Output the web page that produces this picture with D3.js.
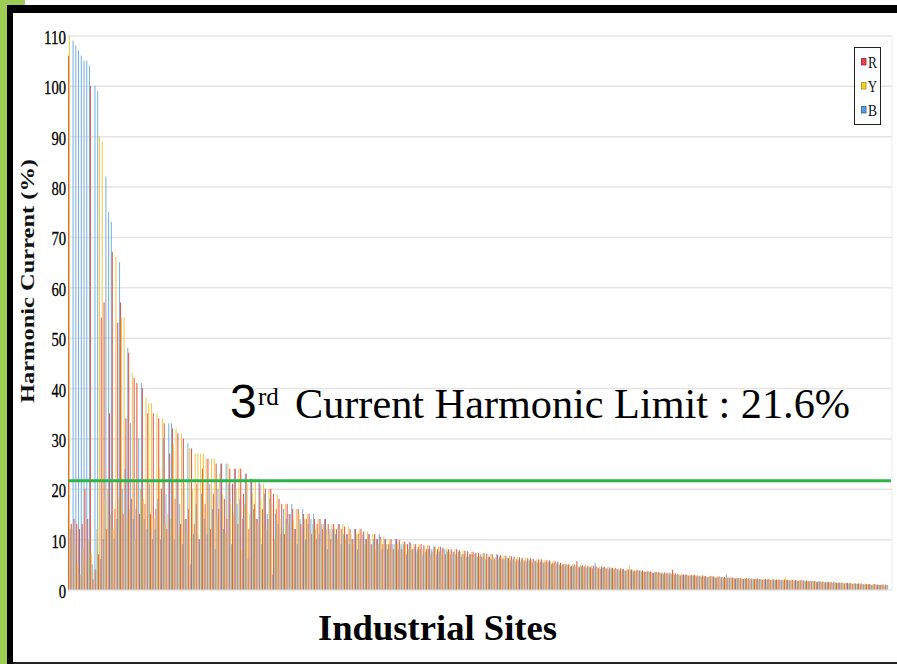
<!DOCTYPE html>
<html><head><meta charset="utf-8">
<script src="https://cdn.jsdelivr.net/npm/d3@7"></script>
<style>html,body{margin:0;padding:0;background:#fff;}svg{display:block;}</style>
</head><body>
<svg id="chart" width="897" height="664"></svg>
<script>
// ---------- data ----------
const seriesNames = ["R", "Y", "B"];
const yTicks = [0, 10, 20, 30, 40, 50, 60, 70, 80, 90, 100, 110];
const limitValue = 21.6;
const yTitle = "Harmonic Current (%)";
const xTitle = "Industrial Sites";

const R = [
106,13,14,13,12,13,20,14,100,2,
4,7,54,57,12,35,67,16,53,57,
15,34,47,18,42,41,15,40,17,35,
15,35,16,34,20,33,12,27,32,18,
31,13,30,14,16,28,13,21,10,24,
17,26,12,19,25,16,25,18,14,24,
21,24,13,24,19,23,12,22,17,14,
21,16,20,14,20,19,16,18,17,11,
17,15,16,12,16,13,15,14,15,11,
14,13,14,12,14,13,10,13,12,13,
12,12.5,11,12,10,12,11,12,11.5,10,
11,9,11,10,10.5,9,10,9,10,8,
10,9.8,8,9.5,9,9.3,8,9,8.5,9,
8.8,8,8.7,7.5,8.5,8,8.5,8.3,7,8,
8,7.5,8,7.8,7,7.7,7.6,7,7.5,7.3,
7.3,6.5,7.2,7.1,6.5,7,6,6.9,6.8,6.2,
6.7,6.2,6.6,6.5,6,6.4,6.3,5.8,6.2,6.2,
6.1,5.6,6,6,5.5,5.8,5.8,5.3,5.6,5.5,
5.3,5,5.1,5,4.7,5,5.6,4.5,4.8,4.8,
4.7,4.4,4.7,4.6,4.2,4.6,4.5,4.2,4.4,4.3,
4.3,4,4.2,4.1,3.8,4,4,3.7,3.9,3.8,
3.8,3.5,3.7,3.6,3.3,3.5,3.5,3.2,3.4,3.3,
3.3,3.9,3.2,3.1,2.8,3,3,2.8,2.9,2.9,
2.8,2.6,2.8,2.7,2.5,2.7,2.6,2.4,2.6,2.5,
2.5,2.3,2.4,2.4,2.2,2.3,2.3,2.1,2.3,2.2,
2.2,2,2.2,2.1,1.9,2.1,2.1,1.9,2,2,
2,1.9,2,1.9,1.8,1.9,1.9,1.7,1.9,1.8,
1.8,1.6,1.7,1.7,1.5,1.6,1.6,1.4,1.5,1.5,
1.5,1.3,1.4,1.4,1.2,1.3,1.3,1.1,1.2,1.2,
1.2,1,1.1,1.1,0.9,1.1,1,0.9,1,1
];
const Y = [
110,12,9,5,3,8,6,10,7,4,
12,90,89,18,20,15,12,66,18,54,
54,14,16,43,10,22,20,18,38,37,
37,14,35,24,34,13,15,14,29,32,
12,31,21,11,28,20,27,27,27,27,
26,18,26,26,14,23,19,11,25,17,
15,20,24,8,17,21,15,19,22,13,
18,21,12,20,17,10,19,14,12,17,
13,10,14,16,15,11,14,15,12,13,
12,14,9,13,12,11,13,12,10,12,
13,10,12.5,11,9,11,12,10,9,11.5,
10,11,8,9,10,10.5,9,10,8,9,
9,8,9.5,9,8,8.5,9,7.5,9,8,
8,8.8,7,8,8,8.5,7,7.5,8.2,7.5,
7,8,6.5,7.5,7.8,7,6.5,7.5,6.5,7,
6.5,7.2,6.8,6,7,6.5,6.5,6,6.5,6.8,
6,6.7,5.8,6,6.5,5.5,6,6.3,5.6,5.8,
5.5,6,5.4,5.8,5.9,5.2,5.5,5.7,5,5.2,
4.8,5.2,4.6,4.8,5,4.5,4.6,4.9,4.4,4.6,
4.3,4.7,4.4,4.2,4.6,4.3,4.1,4.5,4,4.1,
3.9,4.2,3.8,3.9,4.1,4.8,3.8,3.9,3.6,3.5,
3.5,3.7,3.4,3.5,3.6,3.3,3.2,3.4,3.1,3.2,
3,3.2,2.9,3,3.1,2.8,2.9,3,2.7,2.8,
2.6,2.8,2.5,2.6,2.7,2.4,2.5,2.6,2.3,2.4,
2.3,2.5,2.2,2.3,2.4,2.1,2.2,2.3,2.1,2.1,
2,2.2,2,2,2.1,1.9,2,2.1,1.9,1.9,
1.8,2,2.5,1.9,2,1.7,1.8,1.9,1.7,1.7,
1.6,1.8,1.6,1.6,1.7,1.5,1.5,1.6,1.4,1.4,
1.3,1.4,1.3,1.3,1.3,1.2,1.2,1.3,1.1,1.1,
1,1.2,1,1,1.1,0.9,0.9,1,0.9,0.8
];
const B = [
12,109,108,107,106,105,105,104,5,100,
99,6,10,82,75,73,10,14,65,20,
24,48,33,14,16,30,41,14,12,21,
10,12,18,10,30,19,33,33,10,22,
17,9,14,29,5,11,17,10,19,14,
11,21,16,8,20,25,12,25,21,9,
24,17,18,14,23,6,22,16,14,22,
9,19,15,18,3,15,13,11,16,14,
15,17,12,9,14,16,10,13,14,15,
10,11,13,14,8,12,12,11,13,9,
11,11,9,10,12,8,10,11,10,11,
9,10,10,11,8,10,8,9,9,10,
8,9,9,7,9.5,8,8.5,8,8,7,
7.5,8,8,8.7,7,7.5,8,8,7.5,7,
7.5,7,7.5,6.5,7,6.5,7,7,7,6.5,
7,6.5,6,6.5,6,6.2,7,6.5,6,6,
6.2,5.8,6,5.5,5.8,6,5.5,5.6,5.8,5.4,
5.8,5.3,5.5,5.2,5.4,5.5,5,5.2,5.3,4.9,
5,4.7,4.9,4.5,4.6,4.8,4.4,4.6,4.5,4.3,
4.5,4.2,5.3,4.4,4.1,4.4,4.2,4,4.2,3.9,
4.1,3.8,4,3.7,3.9,3.8,3.6,3.6,3.7,3.6,
3.6,3.4,3.5,3.3,3.4,3.4,3.3,3.1,3.2,3,
3.1,2.9,3,2.8,2.9,2.9,2.7,2.7,2.8,2.6,
2.7,2.5,2.6,2.4,2.5,2.6,2.3,2.4,2.4,2.3,
3,2.2,2.3,2.2,2.2,2.2,2.1,2.1,2.2,2,
2.1,2,2.1,1.9,2,2,1.9,1.9,1.9,1.8,
1.9,1.8,1.9,1.8,1.8,1.8,1.7,1.7,1.8,1.6,
1.7,1.6,1.6,1.5,1.6,1.5,1.4,1.5,1.4,1.3,
1.4,1.3,1.3,1.2,1.3,1.2,1.1,1.2,1.1,1,
1.1,1,1,0.9,1,0.9,0.9,0.9,0.8,0.9
];
const sites = d3.range(1, R.length + 1).map(i => "Site " + i);

// ---------- drawing ----------
const W = 897, H = 664;
const svg = d3.select("#chart");
const barColor = d3.scaleOrdinal().domain(seriesNames).range(["#e05a48", "#f2c955", "#7db3e2"]);
const legColor = d3.scaleOrdinal().domain(seriesNames).range(["#e8404e", "#f0cf2a", "#5a9fe0"]);
const legStroke = d3.scaleOrdinal().domain(seriesNames).range(["#a02030", "#b09010", "#2a60a0"]);

// frame
svg.append("rect").attr("x", 0).attr("y", 0).attr("width", 7).attr("height", H).attr("fill", "#9dcb55");
svg.append("rect").attr("x", 0).attr("y", 0).attr("width", 25).attr("height", 5).attr("fill", "#9dcb55");
svg.append("rect").attr("x", 7).attr("y", 5).attr("width", W - 7).attr("height", 8).attr("fill", "#000");
svg.append("rect").attr("x", 7).attr("y", 5).attr("width", 6).attr("height", H - 5).attr("fill", "#000");
svg.append("rect").attr("x", 13).attr("y", 662).attr("width", W - 13).attr("height", 2).attr("fill", "#222");

const x = d3.scaleBand().domain(sites).range([68, 888]).padding(0);
const xs = d3.scaleBand().domain(seriesNames).range([0, x.bandwidth()]);
const y = d3.scaleLinear().domain([0, 110]).range([589.5, 35.5]);

// gridlines
svg.append("g").attr("transform", "translate(68,0)")
  .call(d3.axisLeft(y).tickValues(yTicks).tickSize(-824).tickFormat(""))
  .call(g => g.select(".domain").remove())
  .selectAll("line").attr("stroke", "#e4e4e4").attr("stroke-width", 1.5);
svg.append("line").attr("x1", 892).attr("x2", 892).attr("y1", y(110)).attr("y2", y(0))
  .attr("stroke", "#ececec").attr("stroke-width", 1);

// bars
const data = sites.map((s, i) => ({ site: s, vals: [R[i], Y[i], B[i]] }));
svg.append("g").selectAll("g").data(data).join("g")
  .attr("transform", d => `translate(${x(d.site)},0)`)
  .selectAll("rect").data(d => d.vals.map((v, k) => ({ k: seriesNames[k], v })))
  .join("rect")
  .attr("x", d => xs(d.k)).attr("width", xs.bandwidth() + 0.15)
  .attr("y", d => y(d.v)).attr("height", d => y(0) - y(d.v))
  .attr("fill", d => barColor(d.k));

// y tick labels
const yAx = svg.append("g").attr("transform", "translate(66,0)")
  .call(d3.axisLeft(y).tickValues(yTicks).tickSize(0).tickPadding(0));
yAx.select(".domain").remove();
yAx.selectAll("text")
  .attr("dy", "0.42em")
  .attr("font-family", "'Liberation Serif', serif").attr("font-size", 19).attr("fill", "#000")
  .attr("stroke", "#000").attr("stroke-width", 0.3)
  .attr("textLength", d => String(d).length * 7.3).attr("lengthAdjust", "spacingAndGlyphs");

// limit line
svg.append("line").attr("x1", 68).attr("x2", 891).attr("y1", y(limitValue)).attr("y2", y(limitValue))
  .attr("stroke", "#2eb34b").attr("stroke-width", 3);

// annotation
svg.append("text").attr("x", 230).attr("y", 418).attr("font-family", "'Liberation Sans', Arial, sans-serif")
  .attr("font-size", 48).attr("fill", "#000").text("3");
svg.append("text").attr("x", 258).attr("y", 405).attr("font-family", "'Liberation Serif', serif")
  .attr("font-size", 25).attr("fill", "#000").text("rd");
svg.append("text").attr("x", 295).attr("y", 418).attr("font-family", "'Liberation Serif', serif")
  .attr("font-size", 42).attr("fill", "#000").attr("textLength", 555).attr("lengthAdjust", "spacingAndGlyphs")
  .text("Current Harmonic Limit : " + limitValue + "%");

// axis titles
svg.append("text").attr("transform", "translate(34,281) rotate(-90)").attr("text-anchor", "middle")
  .attr("font-family", "'Liberation Serif', serif").attr("font-weight", "bold").attr("font-size", 19)
  .attr("textLength", 244).attr("lengthAdjust", "spacingAndGlyphs").attr("fill", "#111").text(yTitle);
svg.append("text").attr("x", 437.5).attr("y", 640).attr("text-anchor", "middle")
  .attr("font-family", "'Liberation Serif', serif").attr("font-weight", "bold").attr("font-size", 36)
  .attr("textLength", 239).attr("lengthAdjust", "spacingAndGlyphs").attr("fill", "#000").text(xTitle);

// legend
const leg = svg.append("g");
leg.append("rect").attr("x", 854.5).attr("y", 47.5).attr("width", 26).attr("height", 77)
  .attr("fill", "#fff").attr("stroke", "#222").attr("stroke-width", 1);
const li = leg.selectAll("g.li").data(seriesNames).join("g").attr("class", "li")
  .attr("transform", (d, i) => `translate(0,${62 + i * 24})`);
li.append("rect").attr("x", 861.5).attr("y", -3.5).attr("width", 4.5).attr("height", 6.5)
  .attr("fill", d => legColor(d)).attr("stroke", d => legStroke(d)).attr("stroke-width", 0.8);
li.append("text").attr("x", 868).attr("y", 5.5).attr("font-family", "'Liberation Serif', serif")
  .attr("font-size", 16).attr("fill", "#111").attr("textLength", 9).attr("lengthAdjust", "spacingAndGlyphs")
  .text(d => d);
</script>
</body></html>
